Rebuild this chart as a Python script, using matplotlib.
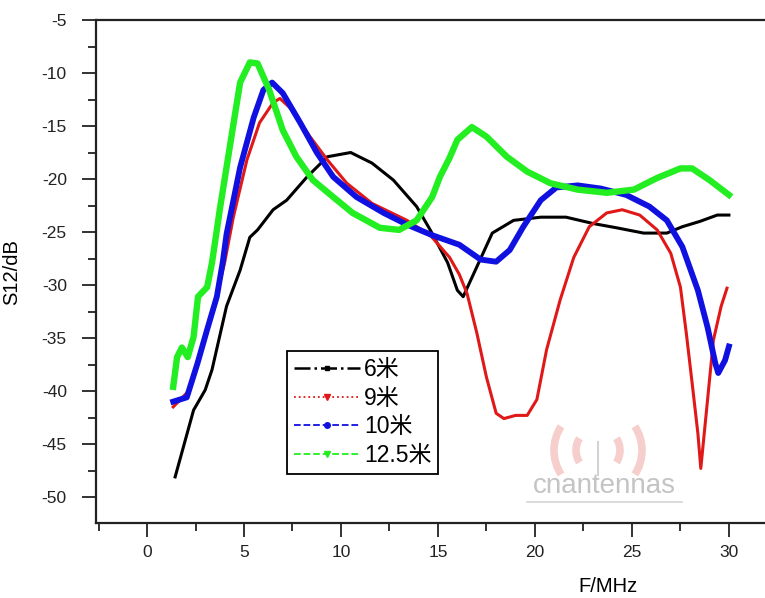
import matplotlib
matplotlib.use("Agg")
import matplotlib.pyplot as plt
from matplotlib.lines import Line2D
from matplotlib.patches import Arc
from matplotlib.ticker import MultipleLocator

plt.rcParams['font.family'] = ['Liberation Sans', 'Noto Sans CJK SC', 'DejaVu Sans']
plt.rcParams['axes.unicode_minus'] = False

# ---- data ----
labels = ["6米", "9米", "10米", "12.5米"]

x_6 = [1.45, 2.4, 3.0, 3.35, 4.1, 4.8, 5.3, 5.7, 6.5, 7.2, 8.25, 9.3, 10.5, 11.6, 12.7,
       13.9, 14.6, 15.5, 16.0, 16.3, 17.0, 17.8, 18.9, 20.3, 21.6, 23.0, 24.2, 25.6,
       26.8, 27.6, 28.5, 29.4, 30.0]
y_6 = [-48.1, -41.8, -39.9, -38.0, -32.0, -28.6, -25.5, -24.8, -22.9, -22.0, -19.8, -17.9,
       -17.5, -18.5, -20.1, -22.6, -24.8, -27.9, -30.5, -31.1, -28.3, -25.1, -23.9, -23.6,
       -23.6, -24.2, -24.6, -25.1, -25.1, -24.5, -24.0, -23.4, -23.4]

x_9 = [1.35, 2.2, 2.7, 3.4, 4.0, 4.45, 5.15, 5.8, 6.5, 6.85, 7.5, 8.4, 9.3, 10.3, 11.6,
       13.4, 14.6, 15.6, 16.1, 16.5, 17.0, 17.5, 18.0, 18.4, 19.0, 19.6, 20.1, 20.6,
       21.3, 22.0, 22.8, 23.7, 24.5, 25.4, 26.3, 27.0, 27.5, 27.8, 28.1, 28.4, 28.55,
       28.9, 29.2, 29.6, 29.9]
y_9 = [-41.5, -39.9, -36.8, -32.4, -27.9, -23.6, -18.2, -14.7, -12.8, -12.4, -13.5, -16.0,
       -18.2, -20.4, -22.3, -23.9, -25.3, -27.4, -29.0, -30.8, -34.5, -38.7, -42.1, -42.6,
       -42.3, -42.3, -40.8, -36.1, -31.4, -27.4, -24.5, -23.2, -22.9, -23.4, -24.8, -27.0,
       -30.2, -34.5, -39.2, -44.0, -47.3, -40.8, -35.2, -32.0, -30.3]

x_10 = [1.35, 2.05, 2.6, 3.1, 3.6, 3.9, 4.1, 4.8, 5.5, 6.0, 6.45, 7.0, 7.9, 8.75, 9.6,
        10.8, 12.2, 13.4, 14.7, 16.1, 17.2, 18.0, 18.7, 19.4, 20.3, 21.1, 22.2, 23.4,
        24.7, 25.9, 26.8, 27.6, 28.4, 28.9, 29.3, 29.45, 29.8, 30.0]
y_10 = [-41.0, -40.6, -37.4, -34.2, -31.1, -27.9, -25.2, -18.9, -14.2, -11.6, -10.9, -11.9,
        -14.7, -17.5, -19.8, -21.7, -23.2, -24.3, -25.3, -26.2, -27.6, -27.8, -26.7, -24.5,
        -22.0, -20.8, -20.6, -20.9, -21.5, -22.6, -23.9, -26.4, -30.5, -34.0, -37.4, -38.3,
        -37.1, -35.8]

x_125 = [1.35, 1.55, 1.8, 2.1, 2.4, 2.63, 3.1, 3.35, 3.6, 3.75, 4.3, 4.8, 5.3, 5.7, 6.3,
         7.0, 7.7, 8.55, 9.6, 10.6, 12.0, 13.0, 13.9, 14.7, 15.1, 15.6, 16.0, 16.75, 17.5,
         18.55, 19.6, 20.8, 22.2, 23.7, 25.1, 26.3, 27.5, 28.1, 29.0, 30.0]
y_125 = [-39.6, -36.8, -35.9, -36.8, -34.9, -31.1, -30.2, -27.9, -24.8, -22.9, -16.6, -10.9,
         -9.0, -9.1, -11.6, -15.4, -17.9, -20.1, -21.7, -23.2, -24.6, -24.8, -23.9, -21.7,
         -19.8, -18.0, -16.3, -15.1, -16.0, -17.9, -19.3, -20.4, -21.0, -21.3, -21.0, -19.9,
         -19.0, -19.0, -20.1, -21.5]

x_ticks = [0, 5, 10, 15, 20, 25, 30]
y_ticks = [-5, -10, -15, -20, -25, -30, -35, -40, -45, -50]

# ---- figure ----
fig = plt.figure(figsize=(7.65, 5.98), dpi=100)
ax = fig.add_axes([96 / 765, 1 - 523 / 598, (765 - 96) / 765, 503 / 598])

# watermark (behind the curves)
wx, wy = 23.25, -45.6
for r in (22, 44):
    for t1, t2 in ((130, 230), (-50, 50)):
        ax.add_patch(Arc((wx, wy), 2 * r / 19.4, 2 * r / 10.6, theta1=t1, theta2=t2,
                         color='#f6cfcc', lw=5.5, zorder=0))
ax.plot([wx, wx], [-44.8, -47.9], color='#d2d2d2', lw=1.5, zorder=0)
ax.text(23.6, -49.0, "cnantennas", fontsize=20, color='#c4c4c4', ha='center', va='center', zorder=0)
ax.plot([19.6, 27.6], [-50.5, -50.5], color='#d4d4d4', lw=1.2, zorder=0)

ax.plot(x_6, y_6, color='black', lw=2.2, solid_joinstyle='round', zorder=2)
ax.plot(x_9, y_9, color='#e01818', lw=2.2, solid_joinstyle='round', zorder=3)
ax.plot(x_10, y_10, color='#1010e0', lw=4.2, solid_joinstyle='round', zorder=4)
ax.plot(x_125, y_125, color='#22ee22', lw=4.6, solid_joinstyle='round', zorder=5)

ax.set_xlim(-2.63, 31.86)
ax.set_ylim(-52.45, -5)
ax.set_xticks(x_ticks)
ax.set_yticks(y_ticks)
ax.xaxis.set_minor_locator(MultipleLocator(2.5))
ax.yaxis.set_minor_locator(MultipleLocator(2.5))
ax.tick_params(which='major', direction='out', length=10, width=1.3, labelsize=12.5,
               colors='#222222')
ax.tick_params(axis='x', which='major', pad=6)
ax.tick_params(axis='y', which='major', pad=11)
ax.tick_params(which='minor', direction='out', length=6, width=1.3, colors='#222222')
ax.spines['right'].set_visible(False)
for s in ('left', 'bottom', 'top'):
    ax.spines[s].set_linewidth(1.6)
    ax.spines[s].set_color('#222222')

fig.text(12 / 765, 1 - 272 / 598, "S12/dB", rotation=90, fontsize=14.5, ha='center', va='center')
fig.text(608 / 765, 1 - 587 / 598, "F/MHz", fontsize=14.5, ha='center', va='center')

# legend
handles = [
    Line2D([], [], color='black', lw=1.8, ls='-.', marker='s', markersize=3),
    Line2D([], [], color='#e01818', lw=1.3, ls=':', marker='v', markersize=4),
    Line2D([], [], color='#1010e0', lw=1.3, ls='--', marker='o', markersize=4),
    Line2D([], [], color='#22ee22', lw=1.3, ls='--', marker='v', markersize=5),
]
leg = ax.legend(handles, labels, loc='lower left', bbox_to_anchor=(0.2855, 0.0974),
                borderaxespad=0, fontsize=16.5, handlelength=2.9, handletextpad=0.15,
                labelspacing=0.25, numpoints=1, fancybox=False, framealpha=1,
                borderpad=0.3)
leg.get_frame().set_edgecolor('black')
leg.get_frame().set_linewidth(1.3)

fig.savefig("out.png", dpi=100)
